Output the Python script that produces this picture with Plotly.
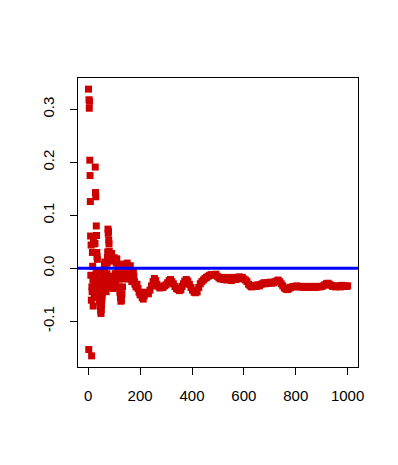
import plotly.graph_objects as go

# index (draw number) and running estimate
idx_early = [1, 2, 3, 4, 5, 6, 7, 8, 9, 10, 11, 12, 13, 14, 15, 16, 17, 18, 19, 20,
             21, 22, 23, 24, 25, 26, 27, 28, 29, 30, 31, 32, 33, 34, 35, 36, 37, 38, 39, 40,
             41, 42, 43, 44, 45, 46, 47, 48, 49, 50, 51, 52, 53, 54, 55, 56, 57, 58, 59, 60,
             61, 62, 63, 64, 65, 66, 67, 68, 69, 70, 71, 72, 73, 74, 75, 76, 77, 78, 79, 80,
             81, 82, 83, 84, 86, 88, 90, 92, 94, 96, 98, 100, 102, 104, 106, 108, 110, 112, 114, 116,
             118, 120, 122, 124, 126, 128, 130, 132, 134, 136, 138, 140, 142, 144, 146, 148, 150, 152, 154, 156,
             158, 160, 162, 164, 166, 168, 170, 172, 174, 176, 178, 180, 184, 188, 192, 196, 200, 204, 208, 212, 216]
val_early = [0.338, -0.153, 0.318, 0.302, 0.315, 0.204, 0.175, 0.126, 0.061, -0.013,
             0.044, -0.060, -0.165, -0.035, -0.044, 0.030, 0.004, -0.022, -0.071, 0.053,
             0.046, -0.040, -0.055, -0.028, -0.017, 0.047, 0.191, 0.143, 0.135, -0.010,
             0.080, 0.062, 0.030, 0.022, 0.017, -0.006, -0.030, -0.045, -0.050, -0.040,
             -0.020, -0.048, -0.055, -0.062, -0.058, -0.066, -0.072, -0.080, -0.085, -0.078,
             -0.070, -0.060, -0.054, -0.048, -0.040, -0.035, -0.030, -0.025, -0.018, -0.010,
             -0.005, 0.000, 0.008, 0.012, 0.006, -0.012, -0.028, -0.036, -0.044, -0.030,
             -0.020, -0.010, 0.010, 0.020, 0.031, 0.074, 0.066, 0.070, 0.053, 0.046,
             0.032, 0.025, 0.020, 0.014, -0.015, -0.025, 0.028, -0.035, -0.020, -0.038,
             -0.030, 0.020, 0.014, -0.010, -0.025, 0.010, 0.018, -0.015, -0.005, 0.008,
             -0.020, -0.035, -0.045, -0.055, -0.062, -0.060, -0.048, -0.035, -0.020, -0.010,
             0.002, 0.008, -0.005, -0.015, -0.008, 0.004, 0.010, -0.002, -0.012, -0.020,
             -0.010, 0.000, 0.005, -0.008, -0.018, -0.025, -0.020, -0.012, -0.005, -0.015,
             -0.025, -0.030, -0.035, -0.030, -0.038, -0.045, -0.050, -0.048, -0.055, -0.058, -0.052]

idx_late = [220, 226, 232, 238, 244, 250, 255, 260, 265, 270, 276, 282, 288, 294, 300, 306, 312, 317, 322, 328,
            334, 340, 346, 352, 357, 362, 367, 372, 378, 384, 390, 396, 402, 408, 414, 420, 426, 432, 438, 444,
            450, 456, 462, 468, 474, 480, 486, 492, 498, 504, 510, 516, 522, 528, 534, 540, 546, 552, 558, 564,
            570, 576, 582, 588, 594, 600, 606, 612, 618, 624, 630, 636, 642, 648, 654, 660, 666, 672, 678, 684,
            690, 696, 702, 708, 714, 720, 726, 732, 738, 744, 750, 756, 762, 768, 774, 780, 786, 792, 798, 804,
            810, 816, 822, 828, 834, 840, 846, 852, 858, 864, 870, 876, 882, 888, 894, 900, 906, 912, 918, 924,
            930, 936, 942, 948, 954, 960, 966, 972, 978, 984, 990, 996, 1000]
val_late = [-0.045, -0.047, -0.048, -0.041, -0.033, -0.025, -0.019, -0.023, -0.030, -0.034,
            -0.037, -0.035, -0.036, -0.033, -0.031, -0.027, -0.023, -0.021, -0.025, -0.029,
            -0.034, -0.038, -0.040, -0.042, -0.040, -0.034, -0.029, -0.024, -0.021, -0.024,
            -0.030, -0.036, -0.041, -0.045, -0.046, -0.044, -0.036, -0.029, -0.025, -0.022,
            -0.019, -0.017, -0.015, -0.013, -0.012, -0.012, -0.013, -0.011, -0.015, -0.018,
            -0.020, -0.017, -0.021, -0.018, -0.022, -0.017, -0.020, -0.023, -0.019, -0.017,
            -0.021, -0.018, -0.016, -0.019, -0.017, -0.020, -0.022, -0.025, -0.030, -0.033,
            -0.035, -0.034, -0.032, -0.034, -0.031, -0.033, -0.030, -0.029, -0.027, -0.029,
            -0.027, -0.028, -0.026, -0.028, -0.027, -0.025, -0.024, -0.022, -0.025, -0.029,
            -0.033, -0.037, -0.039, -0.040, -0.038, -0.036, -0.035, -0.034, -0.035, -0.033,
            -0.034, -0.035, -0.034, -0.036, -0.035, -0.034, -0.035, -0.036, -0.034, -0.035,
            -0.034, -0.036, -0.035, -0.034, -0.035, -0.034, -0.033, -0.031, -0.029, -0.028,
            -0.030, -0.032, -0.034, -0.033, -0.035, -0.034, -0.033, -0.035, -0.032, -0.034,
            -0.033, -0.034, -0.033]

x_ticks = [0, 200, 400, 600, 800, 1000]
y_ticks = [-0.1, 0.0, 0.1, 0.2, 0.3]
y_tick_text = ["-0.1", "0.0", "0.1", "0.2", "0.3"]
ref_level = 0.0

xs = idx_early + idx_late
ys = val_early + val_late

fig = go.Figure()
fig.add_trace(go.Scatter(
    x=xs, y=ys, mode="markers",
    marker=dict(symbol="square", size=7, color="#CD0000", line=dict(width=0)),
    showlegend=False, hoverinfo="skip"))

fig.add_shape(type="line", xref="paper", x0=0, x1=1, yref="y", y0=ref_level, y1=ref_level,
              line=dict(color="#0000FF", width=3))

font = dict(family="Arial, Liberation Sans, sans-serif", size=15, color="black")
fig.update_layout(
    width=398, height=465,
    margin=dict(l=70, r=48, t=70, b=106),
    paper_bgcolor="white", plot_bgcolor="white",
    font=font,
    xaxis=dict(range=[-39.5, 1040], tickvals=x_ticks, ticks="outside", ticklen=7,
               tickcolor="black", showline=True, linecolor="black", linewidth=1,
               mirror=True, showgrid=False, zeroline=False, ticklabelstandoff=8,
               tickfont=font),
    yaxis=dict(range=[-0.186, 0.359], tickvals=y_ticks, ticktext=y_tick_text,
               ticks="outside", ticklen=7, tickcolor="black", showline=True,
               linecolor="black", linewidth=1, mirror=True, showgrid=False,
               zeroline=False, tickangle=-90, ticklabelstandoff=10, tickfont=font),
)

fig.write_html("out.html")
